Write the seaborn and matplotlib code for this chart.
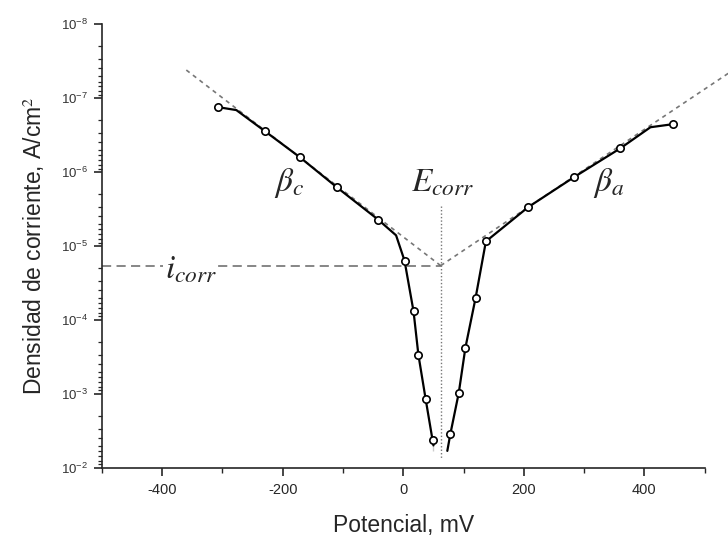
import matplotlib
matplotlib.use("Agg")
import matplotlib.pyplot as plt
import matplotlib.ticker as mticker
import seaborn as sns
import pandas as pd

# measured points (potential in mV, current density in A/cm2)
pot_points = [-308, -230, -172, -110, -42, 2, 17, 25, 37, 50,
              78, 92, 103, 120, 137, 207, 283, 360, 448]
dens_points = [1.33e-7, 2.8e-7, 6.3e-7, 1.62e-6, 4.4e-6, 1.58e-5, 7.7e-5, 2.96e-4, 1.17e-3, 4.2e-3,
               3.5e-3, 9.7e-4, 2.38e-4, 5.0e-5, 8.7e-6, 3.0e-6, 1.18e-6, 4.8e-7, 2.26e-7]

# curve drawn through the points (cathodic and anodic branch)
curve_c_pot = [-308, -277, -230, -172, -110, -42, -12, 2, 17, 25, 37, 50, 50]
curve_c_dens = [1.33e-7, 1.46e-7, 2.8e-7, 6.3e-7, 1.62e-6, 4.4e-6, 7.2e-6, 1.58e-5,
                7.7e-5, 2.96e-4, 1.17e-3, 4.2e-3, 5.9e-3]
curve_a_pot = [73, 78, 92, 103, 120, 137, 207, 283, 360, 410, 448]
curve_a_dens = [5.9e-3, 3.5e-3, 9.7e-4, 2.38e-4, 5.0e-5, 8.7e-6, 3.0e-6, 1.18e-6,
                4.8e-7, 2.49e-7, 2.26e-7]

# Tafel extrapolations
ecorr = 62
icorr = 1.85e-5
tafel_c_pot = [-360, ecorr]
tafel_c_dens = [4.2e-8, icorr]
tafel_a_pot = [ecorr, 540]
tafel_a_dens = [icorr, 4.6e-8]
ecorr_line_dens = [2.9e-6, 7.4e-3]

yticks = [1e-8, 1e-7, 1e-6, 1e-5, 1e-4, 1e-3, 1e-2]
xticks = [-400, -200, 0, 200, 400]

sns.set_style("ticks")
plt.rcParams["font.family"] = ["Liberation Sans", "DejaVu Sans"]
plt.rcParams["mathtext.fontset"] = "stix"
plt.rcParams["axes.unicode_minus"] = False

fig = plt.figure(figsize=(7.28, 5.44), dpi=100)
ax = fig.add_axes([0.140, 0.140, 0.828, 0.816])
ax.set_yscale("log")

pts = pd.DataFrame({"pot": pot_points, "dens": dens_points})
cat = pd.DataFrame({"pot": curve_c_pot, "dens": curve_c_dens})
ano = pd.DataFrame({"pot": curve_a_pot, "dens": curve_a_dens})

# Tafel lines and reference lines
ax.plot(tafel_c_pot, tafel_c_dens, color="#777777", ls=(0, (2.5, 2.5)), lw=1.2, clip_on=False, zorder=1)
ax.plot(tafel_a_pot, tafel_a_dens, color="#777777", ls=(0, (2.5, 2.5)), lw=1.2, clip_on=False, zorder=1)
ax.plot([-500, ecorr], [icorr, icorr], color="#666666", ls=(0, (6, 3.5)), lw=1.1, zorder=1)
ax.plot([ecorr, ecorr], ecorr_line_dens, color="#777777", ls=(0, (1, 1.5)), lw=1.0, zorder=1)

sns.lineplot(data=cat, x="pot", y="dens", sort=False, color="black", lw=1.6, ax=ax, zorder=2)
sns.lineplot(data=ano, x="pot", y="dens", sort=False, color="black", lw=1.6, ax=ax, zorder=2)
sns.scatterplot(data=pts, x="pot", y="dens", s=28, marker="o", facecolor="white",
                edgecolor="black", linewidth=1.2, ax=ax, zorder=3)

ax.set_xlim(-500, 500)
ax.set_ylim(1e-2, 1e-8)
ax.set_xticks(xticks)
ax.xaxis.set_minor_locator(mticker.MultipleLocator(100))
ax.set_yticks(yticks)
ax.yaxis.set_minor_locator(mticker.LogLocator(base=10, subs=range(2, 10), numticks=20))
ax.yaxis.set_minor_formatter(mticker.NullFormatter())

ax.tick_params(axis="x", which="major", length=6, width=1.2, labelsize=10.5, pad=5)
ax.tick_params(axis="x", which="minor", length=3.5, width=1.0)
ax.tick_params(axis="y", which="major", length=6, width=1.2, labelsize=9.5, pad=4, labelcolor="#333333")
ax.tick_params(axis="y", which="minor", length=3, width=0.9)
for s in ["left", "bottom"]:
    ax.spines[s].set_linewidth(1.2)
sns.despine(ax=ax)

ax.set_xlabel("Potencial, mV", fontsize=16.5, labelpad=12)
ax.set_ylabel("Densidad de corriente, A/cm$^2$", fontsize=16.5, labelpad=10)

ax.text(65, 1.43e-6, r"$E_{corr}$", fontsize=24, ha="center", va="center")
ax.text(-190, 1.43e-6, r"$\beta_c$", fontsize=24, ha="center", va="center")
ax.text(340, 1.43e-6, r"$\beta_a$", fontsize=24, ha="center", va="center")
ax.text(-353, 2.15e-5, r"$i_{corr}$", fontsize=24, ha="center", va="center",
        bbox=dict(facecolor="white", edgecolor="none", pad=1), zorder=2)

fig.savefig("out.png", dpi=100)
